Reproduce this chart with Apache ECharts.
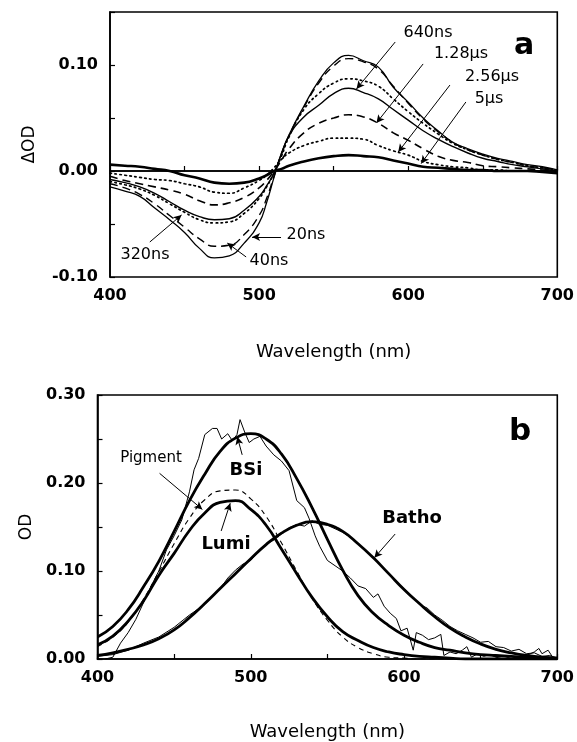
<!DOCTYPE html>
<html><head><meta charset="utf-8">
<script src="https://cdn.jsdelivr.net/npm/echarts@6/dist/echarts.min.js"></script>
<style>html,body{margin:0;padding:0;background:#fff}#c{width:577px;height:742px}</style>
</head><body><div id="c"></div>
<script>
// ---------- Panel a : difference spectra ----------
const wlA = [400,410,420,430,440,450,460,470,480,490,500,505,510,515,520,530,540,550,560,570,580,590,600,610,620,630,640,650,660,670,680,690,700];
const d20ns  = [-0.015,-0.019,-0.024,-0.035,-0.046,-0.058,-0.073,-0.082,-0.080,-0.068,-0.049,-0.030,-0.006,0.017,0.034,0.061,0.085,0.102,0.109,0.104,0.098,0.079,0.065,0.050,0.038,0.027,0.021,0.016,0.012,0.009,0.006,0.004,0.001];
const d40ns  = [-0.012,-0.016,-0.022,-0.031,-0.042,-0.053,-0.064,-0.071,-0.070,-0.060,-0.042,-0.026,-0.005,0.016,0.033,0.060,0.083,0.099,0.106,0.103,0.096,0.080,0.064,0.049,0.037,0.027,0.020,0.015,0.011,0.008,0.005,0.003,0.001];
const d320ns = [-0.010,-0.013,-0.017,-0.023,-0.031,-0.039,-0.046,-0.049,-0.048,-0.040,-0.026,-0.015,-0.002,0.014,0.032,0.058,0.073,0.083,0.087,0.085,0.080,0.068,0.056,0.045,0.035,0.026,0.020,0.015,0.011,0.008,0.005,0.003,0.001];
const d640ns = [-0.008,-0.011,-0.015,-0.021,-0.029,-0.037,-0.043,-0.046,-0.045,-0.037,-0.024,-0.014,-0.002,0.016,0.033,0.051,0.062,0.073,0.078,0.074,0.068,0.058,0.048,0.038,0.030,0.023,0.017,0.012,0.009,0.006,0.004,0.002,0.000];
const d1_28us = [-0.005,-0.009,-0.012,-0.015,-0.018,-0.022,-0.028,-0.032,-0.030,-0.025,-0.016,-0.009,0.000,0.010,0.021,0.036,0.045,0.050,0.053,0.051,0.045,0.036,0.029,0.021,0.014,0.010,0.008,0.005,0.004,0.003,0.002,0.001,0.000];
const d2_56us = [-0.002,-0.004,-0.006,-0.008,-0.009,-0.012,-0.015,-0.020,-0.021,-0.016,-0.009,-0.004,0.003,0.011,0.017,0.024,0.028,0.031,0.031,0.030,0.024,0.019,0.015,0.009,0.006,0.004,0.003,0.001,0.001,0.000,0.000,0.000,0.000];
const d5us   = [0.006,0.005,0.004,0.002,0.000,-0.004,-0.007,-0.011,-0.012,-0.011,-0.007,-0.004,0.000,0.002,0.005,0.009,0.012,0.014,0.015,0.014,0.013,0.010,0.007,0.004,0.003,0.002,0.001,0.001,0.000,0.000,0.000,-0.001,-0.002];
const baseX = [400,700];
const baseY = [0,0];
const ticksA_Y = [-0.10,0.00,0.10];
const ticksX = [400,500,600,700];

// ---------- Panel b : absorption spectra ----------
const wlB = [400,410,420,430,440,450,460,470,480,490,500,510,520,530,540,550,560,570,580,590,600,610,620,630,640,650,660,670,680,690,700];
const fitBSi   = [0.025,0.037,0.056,0.082,0.111,0.145,0.180,0.210,0.236,0.251,0.256,0.250,0.233,0.205,0.172,0.136,0.101,0.072,0.052,0.038,0.027,0.019,0.013,0.010,0.007,0.005,0.004,0.003,0.002,0.001,0.001];
const fitLumi  = [0.016,0.026,0.043,0.066,0.095,0.120,0.146,0.166,0.178,0.180,0.170,0.152,0.125,0.097,0.070,0.048,0.031,0.021,0.013,0.008,0.005,0.003,0.002,0.001,0.000,0.000,0.000,0.000,0.000,0.000,0.000];
const pigment  = [0.014,0.025,0.042,0.068,0.099,0.131,0.160,0.181,0.191,0.192,0.182,0.162,0.132,0.100,0.069,0.044,0.025,0.013,0.006,0.002,0.001,0.000,0.000,0.000,0.000,0.000,0.000,0.000,0.000,0.000,0.000];
const fitBatho = [0.004,0.007,0.011,0.016,0.023,0.033,0.047,0.063,0.080,0.097,0.114,0.130,0.143,0.152,0.156,0.153,0.145,0.131,0.115,0.097,0.079,0.063,0.048,0.035,0.025,0.017,0.011,0.007,0.004,0.002,0.001];
const bsiDataX = [405,410,415,420,425,430,435,440,445,450,455,460,463,466,470,475,478,481,485,488,491,493,496,499,502,506,510,515,520,525,530,535,538,542,545,550,555,560,565,570,575,580,583,587,591,595,598,602,606,608,612,616,620,624,626,630,634,638,641,644,648,652,656,660,665,670,675,680,685,688,690,694,697,700];
const bsiDataY = [0.000,0.002,0.018,0.030,0.045,0.064,0.083,0.100,0.124,0.140,0.158,0.190,0.215,0.228,0.255,0.262,0.262,0.250,0.256,0.248,0.255,0.272,0.258,0.246,0.250,0.253,0.242,0.232,0.225,0.214,0.180,0.172,0.160,0.140,0.128,0.112,0.106,0.100,0.092,0.083,0.080,0.070,0.074,0.060,0.052,0.046,0.032,0.035,0.010,0.030,0.027,0.022,0.024,0.028,0.004,0.008,0.006,0.010,0.014,0.002,0.006,0.003,0.005,0.002,0.000,0.003,0.000,0.004,0.008,0.012,0.006,0.010,0.002,0.001];
const bathoDataX = [400,410,420,430,440,450,460,470,480,485,490,495,500,505,510,515,520,525,530,535,540,545,550,560,570,575,580,590,600,610,615,620,625,630,635,640,645,650,655,660,665,670,675,680,685,690,695,700];
const bathoDataY = [0.003,0.005,0.010,0.018,0.025,0.036,0.050,0.062,0.080,0.092,0.101,0.108,0.112,0.122,0.131,0.135,0.142,0.149,0.153,0.151,0.157,0.153,0.152,0.144,0.132,0.122,0.116,0.096,0.080,0.062,0.058,0.050,0.044,0.037,0.032,0.028,0.024,0.019,0.020,0.014,0.013,0.009,0.011,0.006,0.007,0.003,0.004,0.001];
const ticksB_Y = [0.00,0.10,0.20,0.30];

// annotation arrows (data coordinates: [from],[to])
const arrowsA = [
  [[591.3,0.1217],[565.3,0.0774]],
  [[610,0.101],[578.7,0.0453]],
  [[628,0.0811],[593.3,0.0179]],
  [[638.7,0.0651],[608.7,0.0070]],
  [[426.7,-0.067],[448,-0.0415]],
  [[514.7,-0.0623],[495.3,-0.0623]],
  [[491.3,-0.0811],[478.7,-0.068]]
];
const arrowsB = [
  [[440.5,0.211],[468.4,0.170]],
  [[494.4,0.232],[491.2,0.2526]],
  [[480.7,0.1455],[486.6,0.177]],
  [[594.2,0.142],[580.6,0.115]]
];

const FONT = '"DejaVu Sans", "Liberation Sans", sans-serif';
const zip = (xs, ys) => xs.map((x, i) => [x, ys[i]]);

function xAx(idx, gap) {
  return {
    gridIndex: idx, type: 'value', min: 400, max: 700, interval: 50,
    axisLine: { show: true, lineStyle: { color: '#000', width: 1.6 } },
    axisTick: { show: true, inside: true, length: 5, lineStyle: { color: '#000', width: 1.2 } },
    splitLine: { show: false },
    axisLabel: {
      margin: 11, color: '#000', fontFamily: FONT, fontWeight: 'bold', fontSize: 16,
      formatter: v => ticksX.indexOf(v) >= 0 ? String(v) : ''
    },
    name: 'Wavelength (nm)', nameLocation: 'middle', nameGap: gap,
    nameTextStyle: { color: '#000', fontFamily: FONT, fontSize: 18, fontWeight: 'normal' }
  };
}
function yAx(idx, min, max, ticks, name, gap) {
  return {
    gridIndex: idx, type: 'value', min: min, max: max, interval: 0.05,
    axisLine: { show: true, lineStyle: { color: '#000', width: 1.6 } },
    axisTick: { show: true, inside: true, length: 5, lineStyle: { color: '#000', width: 1.2 } },
    splitLine: { show: false },
    axisLabel: {
      margin: 12, color: '#000', fontFamily: FONT, fontWeight: 'bold', fontSize: 16,
      formatter: v => {
        const k = Math.round(v * 100);
        return ticks.some(t => Math.round(t * 100) === k) ? (k / 100).toFixed(2) : '';
      }
    },
    name: name, nameLocation: 'middle', nameGap: gap, nameRotate: 90,
    nameTextStyle: { color: '#000', fontFamily: FONT, fontSize: 17 }
  };
}
function line(name, xi, data, style, extra) {
  return Object.assign({
    name: name, type: 'line', xAxisIndex: xi, yAxisIndex: xi, data: data,
    showSymbol: false, symbol: 'none', smooth: 0.5,
    lineStyle: Object.assign({ color: '#000', width: 1.3, type: 'solid' }, style),
    silent: true, animation: false, z: 3
  }, extra || {});
}
function arrows(list) {
  return {
    silent: true, animation: false,
    symbol: ['none', 'arrow'], symbolSize: [6, 8],
    label: { show: false },
    lineStyle: { color: '#000', width: 1, type: 'solid' },
    data: list.map(a => [{ coord: a[0] }, { coord: a[1] }])
  };
}
function txt(text, x, y, size, bold) {
  return {
    type: 'text', x: x, y: y, silent: true, z: 10,
    style: {
      text: text, fill: '#000', align: 'center', verticalAlign: 'middle',
      font: (bold ? 'bold ' : '') + size + 'px ' + FONT
    }
  };
}

const chart = echarts.init(document.getElementById('c'), null, { renderer: 'canvas' });
chart.setOption({
  backgroundColor: '#fff',
  animation: false,
  grid: [
    { left: 110, top: 12, width: 450, height: 265, show: true, borderColor: '#000', borderWidth: 1.6 },
    { left: 97.5, top: 395, width: 462.5, height: 266, show: true, borderColor: '#000', borderWidth: 1.6 }
  ],
  xAxis: [xAx(0, 66), xAx(1, 64)],
  yAxis: [
    yAx(0, -0.10, 0.15, ticksA_Y, 'ΔOD', 72),
    yAx(1, 0, 0.30, ticksB_Y, 'OD', 62)
  ],
  series: [
    line('baseline', 0, zip(baseX, baseY), { width: 1.5 }, { smooth: false, markLine: arrows(arrowsA) }),
    line('20ns', 0, zip(wlA, d20ns), { width: 1.3 }),
    line('40ns', 0, zip(wlA, d40ns), { width: 1.4, type: [8, 5] }),
    line('320ns', 0, zip(wlA, d320ns), { width: 1.7, type: [1.5, 3.5], cap: 'round' }),
    line('640ns', 0, zip(wlA, d640ns), { width: 1.4 }),
    line('1.28µs', 0, zip(wlA, d1_28us), { width: 1.6, type: [8, 5] }),
    line('2.56µs', 0, zip(wlA, d2_56us), { width: 1.7, type: [1.5, 3.5], cap: 'round' }),
    line('5µs', 0, zip(wlA, d5us), { width: 2.6 }),

    line('BSi data', 1, zip(bsiDataX, bsiDataY), { width: 1 }, { smooth: false }),
    line('Batho data', 1, zip(bathoDataX, bathoDataY), { width: 1 }, { smooth: false }),
    line('Pigment', 1, zip(wlB, pigment), { width: 1.1, type: [5, 4] }),
    line('BSi', 1, zip(wlB, fitBSi), { width: 2.8 }),
    line('Lumi', 1, zip(wlB, fitLumi), { width: 2.8 }),
    line('Batho', 1, zip(wlB, fitBatho), { width: 2.8 }, { markLine: arrows(arrowsB) })
  ],
  graphic: [
    txt('a', 524, 46, 30, true),
    txt('640ns', 428, 33, 16, false),
    txt('1.28µs', 461, 54, 16, false),
    txt('2.56µs', 492, 77, 16, false),
    txt('5µs', 489, 99, 16, false),
    txt('320ns', 145, 255, 16, false),
    txt('20ns', 306, 235, 16, false),
    txt('40ns', 269, 261, 16, false),
    txt('b', 520, 432, 31, true),
    txt('Pigment', 151, 458, 15, false),
    txt('BSi', 246, 470, 18, true),
    txt('Lumi', 226, 544, 18, true),
    txt('Batho', 412, 518, 18, true)
  ]
});
</script></body></html>
